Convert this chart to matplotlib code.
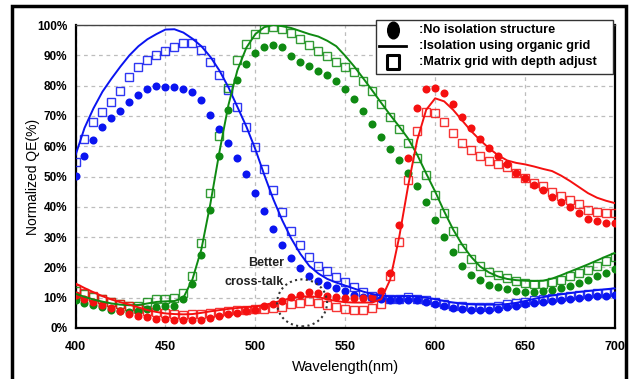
import numpy as np
import matplotlib
matplotlib.use("Agg")
import matplotlib.pyplot as plt
from matplotlib.lines import Line2D
from matplotlib.patches import Ellipse, Rectangle
from matplotlib.path import Path
from matplotlib.transforms import Affine2D

plt.rcParams["font.family"] = ["Liberation Sans", "DejaVu Sans"]

wavelength = np.arange(400, 701, 5)

# no isolation structure (dots)
blue_dot = [50.3, 56.8, 62, 66.3, 69.4, 71.7, 74.5, 76.9, 78.8, 79.8, 79.5, 79.4, 78.9, 77.9, 75.1,
            70.2, 65.8, 61, 56, 50.7, 44.7, 38.5, 32.7, 27.4, 23, 19.7, 17.2, 15.6, 14.2, 13.3,
            12.2, 11, 10.3, 9.8, 9.6, 9.2, 9.1, 9.4, 9.2, 8.7, 7.9, 7.4, 6.7, 6.3, 5.9, 5.8,
            5.9, 6.3, 6.8, 7.3, 7.8, 8.1, 8.5, 8.8, 9.2, 9.5, 9.8, 10.1, 10.4, 10.7, 11.0]
green_dot = [9.1, 8.1, 7.5, 6.9, 6.1, 5.5, 5.2, 5.6, 6.2, 6.8, 7.2, 7.4, 9.5, 14.5, 24, 39, 56.8,
             72, 81.8, 87.2, 90.6, 92.6, 93.4, 92.6, 89.9, 87.8, 86.4, 84.8, 83.5, 81.5, 78.9,
             75.6, 71.6, 67.3, 63.2, 59, 55.4, 51.3, 47, 41.5, 35.6, 29.9, 25, 20.4, 17.5, 15.9,
             14.3, 13.5, 12.8, 12.2, 11.9, 11.9, 12.1, 12.6, 13.2, 14, 14.9, 15.9, 17, 18.3, 19.6]
red_dot = [10.8, 9.6, 8.5, 7.6, 6.6, 5.5, 4.6, 4.0, 3.5, 3.1, 3.0, 2.8, 2.5, 2.5, 2.7, 3.3, 4.0,
           4.5, 5.0, 5.7, 6.1, 7.1, 7.9, 9.0, 10.2, 11.0, 11.9, 11.5, 10.5, 10.1, 10.0, 10.0,
           10.0, 10.2, 12.2, 18.2, 34, 56, 72.7, 78.8, 79.1, 77.4, 73.8, 69.5, 66.1, 62.3, 59.5,
           56.7, 54, 51.3, 49.4, 47.2, 45.5, 43.3, 41.7, 40, 37.8, 36, 35.2, 34.6, 34.5]

# isolation using organic grid (lines)
blue_line = [57, 66, 72.5, 78, 82.3, 86.3, 90, 93, 95.3, 97, 98.5, 98.6, 97.5, 95.5, 93, 89.5,
             85, 79.5, 73, 66.5, 59, 50.5, 42.5, 35.5, 29.5, 24.5, 20.5, 18, 16.2, 15, 14, 13,
             12, 11.2, 10.7, 10.4, 10.4, 10.6, 10.4, 10, 9.5, 8.9, 8.4, 8, 7.8, 7.7, 7.7, 7.7,
             7.9, 8.3, 8.9, 9.6, 10.2, 10.7, 11.1, 11.5, 11.9, 12.2, 12.5, 12.8, 13.1]
green_line = [11.3, 10.3, 9.4, 8.7, 8.1, 7.7, 7.5, 7.6, 8.1, 8.6, 8.8, 8.9, 10, 16, 26, 41, 58,
              73.5, 85, 92.5, 97, 99.3, 100, 99.6, 99, 98, 97, 96.2, 94.8, 93, 89.8, 86.3, 82.4,
              78.4, 74.3, 70.3, 66.5, 62.5, 57.2, 51, 45, 38.5, 32.5, 27.5, 23.5, 20.3, 18.3, 17,
              16.2, 15.8, 15.6, 15.5, 15.6, 16.3, 17.4, 18.6, 19.8, 21, 22.3, 23.6, 24.8]
red_line = [14.7, 13.2, 11.8, 10.5, 9.4, 8.5, 7.7, 6.8, 5.9, 5.3, 4.8, 4.6, 4.5, 4.6, 5.0, 5.5,
            5.9, 6.3, 6.6, 6.9, 7.1, 7.6, 8.3, 9.1, 9.9, 10.3, 10.5, 10.2, 9.5, 8.9, 8.5, 8.4,
            8.4, 8.4, 9.5, 16, 30, 47, 62, 72, 75.8, 74.8, 72, 68.5, 65, 62, 59.3, 57, 55.3,
            54.5, 54, 53.3, 52.5, 51.8, 50.3, 48.5, 46.5, 44.5, 43, 42, 41.2]

# matrix grid with depth adjust (squares)
blue_sq = [54.7, 62.3, 67.9, 71.3, 74.6, 78.2, 82.7, 86, 88.3, 90, 91.3, 92.7, 94, 94, 91.6,
           87.7, 83.4, 78.4, 72.8, 66.3, 59.6, 52.4, 45.4, 38.4, 32, 27.3, 23.3, 20.3, 18.9,
           16.9, 15.3, 13.6, 12, 10.7, 10.2, 9.6, 9.6, 10.2, 9.7, 9.1, 8.5, 8, 7.4, 7.3, 7, 7,
           7, 7.3, 7.8, 8.4, 8.7, 9.2, 9.6, 10, 10.3, 10.7, 10.9, 11.1, 11.4, 11.7, 11.9]
green_sq = [12.3, 11.2, 10.3, 9.5, 8.7, 8.0, 7.4, 7.4, 8.6, 9.5, 9.6, 9.8, 11.5, 17, 28, 44.6,
            63.4, 79.1, 88.4, 93.7, 97, 98.7, 99.4, 98.7, 97.4, 95.4, 93.5, 91.3, 89.7, 87.7,
            86.1, 84.4, 81.6, 78.3, 73.9, 69.6, 65.7, 61.1, 56.1, 50.4, 43.9, 38, 32, 26.5, 22.9,
            20.5, 18.6, 17.4, 16.6, 15.5, 14.8, 14.5, 14.5, 15.2, 16, 17, 18, 19, 20.5, 22, 23.5]
red_sq = [13, 11.7, 10.5, 9.6, 8.7, 7.8, 7.1, 6.4, 5.7, 5.2, 4.8, 4.5, 4.4, 4.5, 4.7, 5.0, 5.4,
          5.7, 5.9, 6.1, 6.2, 6.3, 6.6, 7.0, 7.8, 8.4, 8.8, 8.4, 7.5, 6.8, 6.3, 6.1, 6.1, 6.6,
          7.9, 17, 28.3, 48.7, 65, 71.4, 70.8, 67.9, 64.4, 61, 58.6, 56.7, 55.2, 54, 53.1, 51.3,
          49.4, 48, 47, 45, 43.6, 42.2, 40.8, 39, 38.2, 38, 38]

legend_labels = [":No isolation structure", ":Isolation using organic grid",
                 ":Matrix grid with depth adjust"]

colors = {"blue": "#0a14f0", "green": "#0f8a12", "red": "#f51010"}
series = [
    ("blue", blue_dot, blue_line, blue_sq),
    ("green", green_dot, green_line, green_sq),
    ("red", red_dot, red_line, red_sq),
]

W, H = 633, 379
fig = plt.figure(figsize=(W / 100, H / 100), dpi=100)
ax = fig.add_axes([75.5 / W, 1 - 328 / H, (615 - 75.5) / W, (328 - 25) / H])

for name, dots, line, squares in series:
    c = colors[name]
    ax.plot(wavelength, squares, linestyle="none", marker="s", markersize=6.2,
            markerfacecolor="none", markeredgecolor=c, markeredgewidth=1.0, alpha=0.85, zorder=3)
    ax.plot(wavelength, dots, linestyle="none", marker="o", markersize=5.8,
            color=c, markeredgewidth=0, zorder=4)
    ax.plot(wavelength, line, color=c, linewidth=1.4, zorder=5)

ax.set_xlim(400, 700)
ax.set_ylim(0, 100)
ax.set_xticks(range(400, 701, 50))
ax.set_yticks(range(0, 101, 10))
ax.set_yticklabels([f"{v}%" for v in range(0, 101, 10)])
ax.grid(True, color="#bdbdbd", linestyle=(0, (3, 3)), linewidth=0.9)
ax.set_axisbelow(True)
ax.tick_params(length=0)
ax.tick_params(axis="x", pad=9, labelsize=9)
ax.tick_params(axis="y", pad=6, labelsize=8.5)
for lab in ax.get_xticklabels() + ax.get_yticklabels():
    lab.set_fontweight("bold")

for side in ["left", "bottom", "right"]:
    ax.spines[side].set_linewidth(1.6)
    ax.spines[side].set_color("black")
ax.spines["top"].set_linewidth(1.0)
ax.spines["top"].set_color("#444444")

ax.set_xlabel("Wavelength(nm)", fontsize=10.5)
ax.set_ylabel("Normalized QE(%)", fontsize=10)
ax.xaxis.set_label_coords(0.5, -0.107)
ax.yaxis.set_label_coords(-0.066, 0.5)

# annotation for cross-talk
ax.add_patch(Ellipse((526, 8.3), 27.8, 15.5, fill=False, edgecolor="#333333",
                     linestyle=(0, (1, 1.6)), linewidth=1.5, zorder=6))
ax.text(516, 21.4, "Better", ha="right", va="center", fontsize=9, fontweight="bold", color="#222222")
ax.text(516, 15.3, "cross-talk", ha="right", va="center", fontsize=9, fontweight="bold", color="#222222")


# legend drawn by hand so the box matches the original (pixel positions)
def fx(px):
    return px / W


def fy(py):
    return 1 - py / H


fig.patches.append(Rectangle((fx(376), fy(74)), fx(613) - fx(376), fy(20) - fy(74),
                             transform=fig.transFigure, facecolor="white", edgecolor="#333333",
                             linewidth=1.0, zorder=10))
oval = Path.unit_circle().transformed(Affine2D().scale(0.7, 1.0))
tall_sq = Path([(-0.42, -0.5), (0.42, -0.5), (0.42, 0.5), (-0.42, 0.5), (-0.42, -0.5)], closed=True)
row_y = [30, 46, 62]
fig.lines.append(Line2D([fx(393)], [fy(row_y[0])], transform=fig.transFigure, linestyle="none",
                        marker=oval, markersize=12, color="black", zorder=11))
fig.lines.append(Line2D([fx(379), fx(406)], [fy(row_y[1])] * 2, transform=fig.transFigure,
                        color="black", linewidth=2, zorder=11))
fig.lines.append(Line2D([fx(393)], [fy(row_y[2])], transform=fig.transFigure, linestyle="none",
                        marker=tall_sq, markersize=9.5, markerfacecolor="white",
                        markeredgecolor="black", markeredgewidth=2.2, zorder=11))
for yy, lab in zip(row_y, legend_labels):
    fig.text(fx(419), fy(yy), lab, ha="left", va="center", fontsize=9.2, fontweight="bold",
             zorder=12)

# outer frame of the picture
fig.patches.append(Rectangle((fx(11.5), -0.05), fx(626) - fx(11.5), 1.05 - 5.5 / H,
                             transform=fig.transFigure, fill=False, edgecolor="black",
                             linewidth=2.5, zorder=20))

fig.savefig("out.png", dpi=100)
